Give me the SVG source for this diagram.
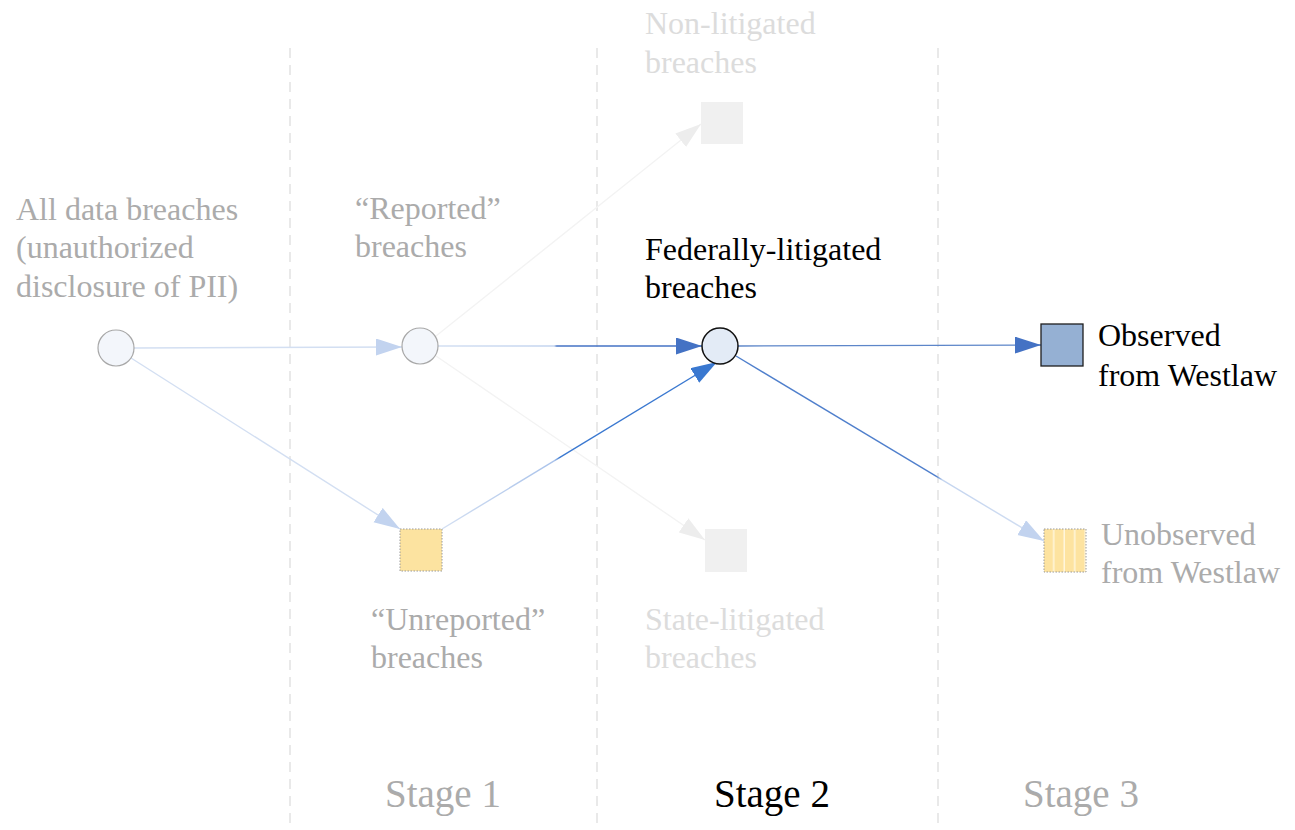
<svg xmlns="http://www.w3.org/2000/svg" width="1295" height="830" viewBox="0 0 1295 830" font-family="'Liberation Serif', 'Times New Roman', 'DejaVu Serif', serif">
  <style>
    text { font-family: 'Liberation Serif', 'Times New Roman', 'DejaVu Serif', serif; font-size: 32px; }
    .muted { fill: #ababab; }
    .ghost { fill: #dcdcdc; }
    .strong { fill: #000000; }
    .stage { font-size: 39px; }
    .divider { stroke: #e2e2e2; stroke-width: 1.5; stroke-dasharray: 10 7; fill: none; }
    .link { fill: none; stroke-width: 1.4; }
  </style>
  <defs>
    <marker id="head-blue" markerUnits="userSpaceOnUse" markerWidth="27" markerHeight="18" refX="26" refY="8.5" orient="auto">
      <path d="M0,0 L26,8.5 L0,17 z" fill="#4472c4"/>
    </marker>
    <marker id="head-bright" markerUnits="userSpaceOnUse" markerWidth="27" markerHeight="18" refX="26" refY="8.5" orient="auto">
      <path d="M0,0 L26,8.5 L0,17 z" fill="#3a78d0"/>
    </marker>
    <marker id="head-faint" markerUnits="userSpaceOnUse" markerWidth="27" markerHeight="18" refX="26" refY="8.5" orient="auto">
      <path d="M0,0 L26,8.5 L0,17 z" fill="#c2d3ef"/>
    </marker>
    <marker id="head-ghost" markerUnits="userSpaceOnUse" markerWidth="27" markerHeight="18" refX="26" refY="8.5" orient="auto">
      <path d="M0,0 L26,8.5 L0,17 z" fill="#ededed"/>
    </marker>
    <linearGradient id="fade-top" gradientUnits="userSpaceOnUse" x1="438" y1="346" x2="702" y2="346">
      <stop offset="0" stop-color="#d3dff2"/>
      <stop offset="0.44" stop-color="#c3d4ef"/>
      <stop offset="0.45" stop-color="#4472c4"/>
      <stop offset="1" stop-color="#4472c4"/>
    </linearGradient>
    <linearGradient id="fade-up" gradientUnits="userSpaceOnUse" x1="442" y1="529" x2="716" y2="362">
      <stop offset="0" stop-color="#d3dff2"/>
      <stop offset="0.41" stop-color="#a9c2ea"/>
      <stop offset="0.43" stop-color="#3a78d0"/>
      <stop offset="1" stop-color="#3a78d0"/>
    </linearGradient>
    <linearGradient id="fade-down" gradientUnits="userSpaceOnUse" x1="736" y1="356" x2="1044" y2="541">
      <stop offset="0" stop-color="#4f7fcc"/>
      <stop offset="0.65" stop-color="#4f7fcc"/>
      <stop offset="0.67" stop-color="#c3d4ef"/>
      <stop offset="1" stop-color="#d3dff2"/>
    </linearGradient>
    <pattern id="stripes" patternUnits="userSpaceOnUse" x="1044" y="529" width="10.5" height="43">
      <rect width="10.5" height="43" fill="#fde3a0"/>
      <rect x="9" width="1.5" height="43" fill="#fff6dc"/>
    </pattern>
  </defs>

  <!-- stage dividers -->
  <g id="dividers">
    <line class="divider" x1="290" y1="48" x2="290" y2="830"/>
    <line class="divider" x1="597" y1="48" x2="597" y2="830"/>
    <line class="divider" x1="938" y1="48" x2="938" y2="830"/>
  </g>

  <!-- connectors -->
  <g id="connectors">
    <line class="link" x1="134" y1="348" x2="402" y2="347" stroke="#d3dff2" marker-end="url(#head-faint)"/>
    <line class="link" x1="131" y1="358" x2="400" y2="529" stroke="#d3dff2" marker-end="url(#head-faint)"/>
    <line class="link" x1="436" y1="336" x2="701" y2="124" stroke="#f3f3f3" marker-end="url(#head-ghost)"/>
    <line class="link" x1="436" y1="356" x2="705" y2="540" stroke="#f3f3f3" marker-end="url(#head-ghost)"/>
    <line class="link" x1="438" y1="346" x2="702" y2="346" stroke="url(#fade-top)" stroke-width="1.8" marker-end="url(#head-blue)"/>
    <line class="link" x1="442" y1="529" x2="717" y2="362" stroke="url(#fade-up)" stroke-width="1.6" marker-end="url(#head-bright)"/>
    <line class="link" x1="738" y1="346" x2="1041" y2="345" stroke="#5d86c9" stroke-width="2" marker-end="url(#head-blue)"/>
    <line class="link" x1="736" y1="356" x2="1044" y2="541" stroke="url(#fade-down)" stroke-width="1.6" marker-end="url(#head-faint)"/>
  </g>

  <!-- nodes -->
  <g id="all-breaches">
    <circle cx="116" cy="348" r="18" fill="#f3f6fb" stroke="#a8a8a8" stroke-width="1.2"/>
    <text class="muted" x="16" y="220">All data breaches</text>
    <text class="muted" x="16" y="258">(unauthorized</text>
    <text class="muted" x="16" y="297">disclosure of PII)</text>
  </g>

  <g id="reported">
    <circle cx="420" cy="346" r="18" fill="#f3f6fb" stroke="#a8a8a8" stroke-width="1.2"/>
    <text class="muted" x="355" y="219">“Reported”</text>
    <text class="muted" x="355" y="257">breaches</text>
  </g>

  <g id="unreported">
    <rect x="400" y="529" width="42" height="42" fill="#fce3a0" stroke="#9a9a9a" stroke-width="1" stroke-dasharray="1.5 1.5"/>
    <text class="muted" x="371" y="630">“Unreported”</text>
    <text class="muted" x="371" y="668">breaches</text>
  </g>

  <g id="non-litigated">
    <rect x="701" y="102" width="42" height="42" fill="#f0f0f0"/>
    <text class="ghost" x="645" y="34">Non-litigated</text>
    <text class="ghost" x="645" y="73">breaches</text>
  </g>

  <g id="federally-litigated">
    <circle cx="720" cy="346" r="18" fill="#e3ebf6" stroke="#111111" stroke-width="1.5"/>
    <text class="strong" x="645" y="260">Federally-litigated</text>
    <text class="strong" x="645" y="298">breaches</text>
  </g>

  <g id="state-litigated">
    <rect x="705" y="529" width="42" height="43" fill="#f0f0f0"/>
    <text class="ghost" x="645" y="630">State-litigated</text>
    <text class="ghost" x="645" y="668">breaches</text>
  </g>

  <g id="observed">
    <rect x="1041" y="324" width="42" height="42" fill="#95b0d3" stroke="#1e1e1e" stroke-width="1.3"/>
    <text class="strong" x="1098" y="346">Observed</text>
    <text class="strong" x="1098" y="386">from Westlaw</text>
  </g>

  <g id="unobserved">
    <rect x="1044" y="529" width="42" height="43" fill="url(#stripes)" stroke="#9a9a9a" stroke-width="1" stroke-dasharray="1.5 1.5"/>
    <text class="muted" x="1101" y="545">Unobserved</text>
    <text class="muted" x="1101" y="583">from Westlaw</text>
  </g>

  <!-- stage labels -->
  <g id="stages">
    <text class="stage muted" x="385" y="807">Stage 1</text>
    <text class="stage strong" x="714" y="807">Stage 2</text>
    <text class="stage muted" x="1023" y="807">Stage 3</text>
  </g>
</svg>
